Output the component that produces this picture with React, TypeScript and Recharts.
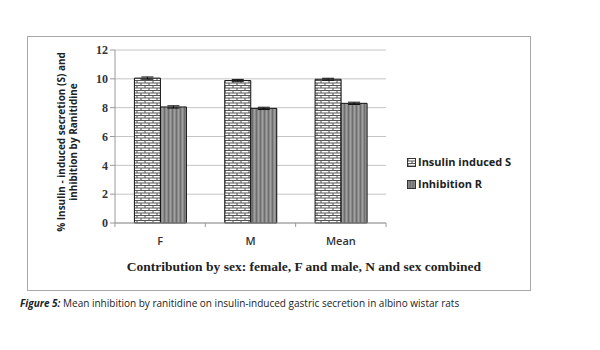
import { BarChart, Bar, XAxis, YAxis, CartesianGrid, ErrorBar } from 'recharts';

const groups = ['F', 'M', 'Mean'];
const insulinS = [10.05, 9.88, 9.97];
const inhibitionR = [8.05, 7.95, 8.3];
const insulinErr = [0.08, 0.08, 0.07];
const inhibitionErr = [0.08, 0.08, 0.08];
const yTicks = [0, 2, 4, 6, 8, 10, 12];

const data = groups.map((g, i) => ({
    group: g,
    insulin: insulinS[i],
    inhibition: inhibitionR[i],
    insulinErr: insulinErr[i],
    inhibitionErr: inhibitionErr[i],
}));

const axisFont = '"Open Sans", "Liberation Sans", sans-serif';
const serifFont = '"Liberation Serif", serif';

// Excel-style x tick: label in the middle, tick marks on the band edges
const GroupTick = ({ x, y, payload, index }: any) => {
    const half = 45.2;
    return (
        <g>
            <line x1={x - half} y1={y - 8} x2={x - half} y2={y - 4} stroke="#9a9a9a" />
            {index === groups.length - 1 && (
                <line x1={x + half} y1={y - 8} x2={x + half} y2={y - 4} stroke="#9a9a9a" />
            )}
            <text x={x} y={y + 14} textAnchor="middle" fill="#333" fontSize={11} fontWeight={600} fontFamily={axisFont}>
                {payload.value}
            </text>
        </g>
    );
};

export default function App() {
    return (
        <div style={{ position: 'absolute', left: 0, top: 0, width: 600, height: 350, background: 'white', overflow: 'hidden' }}>
            <div style={{ position: 'absolute', left: 27, top: 36, width: 504, height: 255, border: '1px solid #a8a8a8', boxSizing: 'border-box' }} />
            <BarChart
                width={600}
                height={350}
                data={data}
                margin={{ top: 50, right: 214, left: 75, bottom: 97 }}
                barCategoryGap="21.5%"
                barGap={0}
            >
                <defs>
                    <pattern id="brick" patternUnits="userSpaceOnUse" width="8" height="5">
                        <rect width="8" height="5" fill="#ffffff" />
                        <line x1="0" y1="0.5" x2="8" y2="0.5" stroke="#555" strokeWidth="1" />
                        <line x1="0" y1="3" x2="8" y2="3" stroke="#555" strokeWidth="1" />
                        <line x1="1" y1="0.5" x2="1" y2="3" stroke="#555" strokeWidth="1" />
                        <line x1="5" y1="3" x2="5" y2="5" stroke="#555" strokeWidth="1" />
                    </pattern>
                    <pattern id="stripes" patternUnits="userSpaceOnUse" width="4" height="4">
                        <rect width="4" height="4" fill="#8a8a8a" />
                        <line x1="0.5" y1="0" x2="0.5" y2="4" stroke="#6e6e6e" strokeWidth="1" />
                        <line x1="2.5" y1="0" x2="2.5" y2="4" stroke="#a0a0a0" strokeWidth="1" />
                    </pattern>
                </defs>
                <CartesianGrid vertical={false} stroke="#c4c4c4" />
                <XAxis
                    dataKey="group"
                    height={30}
                    axisLine={{ stroke: '#9a9a9a' }}
                    tickLine={false}
                    tick={<GroupTick />}
                />
                <YAxis
                    width={40}
                    domain={[0, 12]}
                    ticks={yTicks}
                    axisLine={{ stroke: '#9a9a9a' }}
                    tickLine={{ stroke: '#9a9a9a' }}
                    tickSize={5}
                    tick={{ fill: '#333', fontSize: 12, fontWeight: 700, fontFamily: serifFont }}
                />
                <Bar dataKey="insulin" fill="url(#brick)" stroke="#111" strokeWidth={1} isAnimationActive={false}>
                    <ErrorBar dataKey="insulinErr" width={6} stroke="#111" strokeWidth={1} />
                </Bar>
                <Bar dataKey="inhibition" fill="url(#stripes)" stroke="#111" strokeWidth={1} isAnimationActive={false}>
                    <ErrorBar dataKey="inhibitionErr" width={6} stroke="#111" strokeWidth={1} />
                </Bar>
            </BarChart>

            {/* y-axis title, two rotated lines */}
            <div style={{
                position: 'absolute', left: 67, top: 142, width: 200, transform: 'translate(-50%, -50%) rotate(-90deg)',
                textAlign: 'center', fontFamily: axisFont, fontSize: 10, fontWeight: 700, color: '#222', lineHeight: '12px',
                whiteSpace: 'nowrap',
            }}>
                % Insulin - induced secretion (S) and<br />inhibition by Ranitidine
            </div>

            {/* legend */}
            <div style={{ position: 'absolute', left: 407, top: 151, fontFamily: axisFont, fontSize: 11, fontWeight: 700, color: '#222', lineHeight: '22px' }}>
                <div style={{ display: 'flex', alignItems: 'center' }}>
                    <svg width={9} height={9} style={{ marginRight: 2 }}>
                        <rect x={0.5} y={0.5} width={8} height={8} fill="url(#brick)" stroke="#333" />
                    </svg>
                    Insulin induced S
                </div>
                <div style={{ display: 'flex', alignItems: 'center' }}>
                    <svg width={9} height={9} style={{ marginRight: 2 }}>
                        <rect x={0.5} y={0.5} width={8} height={8} fill="#8a8a8a" stroke="#333" />
                        <line x1={3} y1={1} x2={3} y2={8} stroke="#666" />
                        <line x1={6} y1={1} x2={6} y2={8} stroke="#666" />
                    </svg>
                    Inhibition R
                </div>
            </div>

            {/* x-axis title */}
            <div style={{
                position: 'absolute', left: 120, width: 368, top: 259, textAlign: 'center', whiteSpace: 'nowrap',
                fontFamily: serifFont, fontSize: 13.5, fontWeight: 700, color: '#222',
            }}>
                Contribution by sex: female, F and male, N and sex combined
            </div>

            {/* caption */}
            <div style={{ position: 'absolute', left: 20, top: 296, fontFamily: axisFont, fontSize: 10, color: '#222', whiteSpace: 'nowrap' }}>
                <span style={{ fontStyle: 'italic', fontWeight: 700 }}>Figure 5:</span> Mean inhibition by ranitidine on insulin-induced gastric secretion in albino wistar rats
            </div>
        </div>
    );
}
